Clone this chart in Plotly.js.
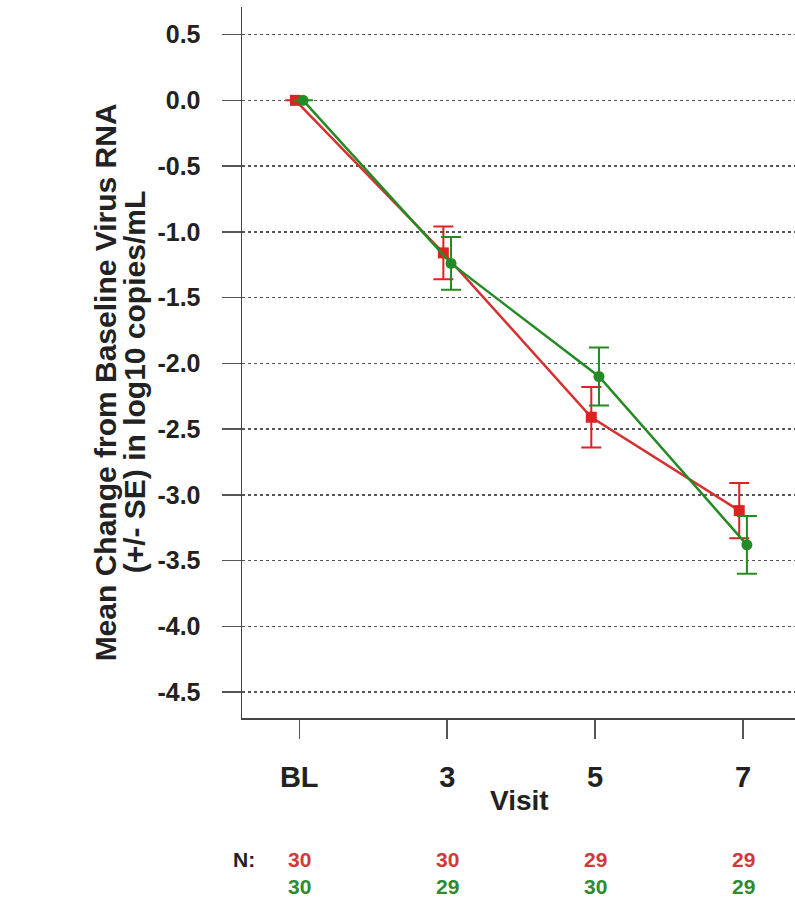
<!DOCTYPE html>
<html>
<head>
<meta charset="utf-8">
<script src="https://cdn.plot.ly/plotly-3.0.1.min.js"></script>
<style>html,body{margin:0;padding:0;background:#fff;overflow:hidden;}</style>
</head>
<body>
<div id="chart" style="width:795px;height:901px;"></div>
<script>
// Data
const visits = ['BL', '3', '5', '7'];
const redMean = [0.00, -1.16, -2.41, -3.12];
const redSE = [0.00, 0.20, 0.23, 0.21];
const greenMean = [0.00, -1.24, -2.10, -3.38];
const greenSE = [0.00, 0.20, 0.22, 0.22];
const redN = [30, 30, 29, 29];
const greenN = [30, 29, 30, 29];
const yTickVals = [0.5, 0.0, -0.5, -1.0, -1.5, -2.0, -2.5, -3.0, -3.5, -4.0, -4.5];
const yTickText = ['0.5', '0.0', '-0.5', '-1.0', '-1.5', '-2.0', '-2.5', '-3.0', '-3.5', '-4.0', '-4.5'];

const RED = '#dd2222';
const GREEN = '#238b23';
const dodge = 0.026;
const idx = visits.map((v, i) => i);
const FONT = 'Liberation Sans, Arial, Helvetica, sans-serif';

const traces = [
  {
    x: idx.map(i => i - dodge), y: redMean, type: 'scatter', mode: 'lines+markers',
    line: {color: '#d63030', width: 2.5},
    marker: {symbol: 'square', size: 11, color: RED},
    error_y: {type: 'data', array: redSE, visible: true, color: RED, thickness: 2, width: 10},
    showlegend: false, hoverinfo: 'skip'
  },
  {
    x: idx.map(i => i + dodge), y: greenMean, type: 'scatter', mode: 'lines+markers',
    line: {color: GREEN, width: 2.5},
    marker: {symbol: 'circle', size: 11, color: GREEN},
    error_y: {type: 'data', array: greenSE, visible: true, color: GREEN, thickness: 2, width: 10},
    showlegend: false, hoverinfo: 'skip'
  }
];

const L = 241.7, R = 795, T = 7, B = 718;
const px = v => (v - L) / (R - L);
const py = v => (B - v) / (B - T);

const annotations = [];
annotations.push({xref: 'paper', yref: 'paper', x: px(105), y: py(382), text: '<b>Mean Change from Baseline Virus RNA</b>',
  textangle: -90, showarrow: false, xanchor: 'center', yanchor: 'middle', font: {family: FONT, size: 30, color: '#222'}});
annotations.push({xref: 'paper', yref: 'paper', x: px(134), y: py(382), text: '<b>(+/- SE) in log10 copies/mL</b>',
  textangle: -90, showarrow: false, xanchor: 'center', yanchor: 'middle', font: {family: FONT, size: 30, color: '#222'}});
annotations.push({xref: 'paper', yref: 'paper', x: px(519), y: py(800), text: '<b>Visit</b>',
  showarrow: false, xanchor: 'center', yanchor: 'middle', font: {family: FONT, size: 28, color: '#222'}});
annotations.push({xref: 'paper', yref: 'paper', x: px(244), y: py(859), text: '<b>N:</b>',
  showarrow: false, xanchor: 'center', yanchor: 'middle', font: {family: FONT, size: 21, color: '#222'}});
idx.forEach(i => {
  annotations.push({xref: 'x', yref: 'paper', x: i, y: py(859), text: '<b>' + redN[i] + '</b>',
    showarrow: false, xanchor: 'center', yanchor: 'middle', font: {family: FONT, size: 21, color: '#d23a3a'}});
  annotations.push({xref: 'x', yref: 'paper', x: i, y: py(886), text: '<b>' + greenN[i] + '</b>',
    showarrow: false, xanchor: 'center', yanchor: 'middle', font: {family: FONT, size: 21, color: '#2e8b2e'}});
});

const layout = {
  width: 795, height: 901,
  margin: {l: L, r: 795 - R, t: T, b: 901 - B, pad: 0},
  paper_bgcolor: '#fff', plot_bgcolor: '#fff',
  showlegend: false,
  xaxis: {
    range: [-0.387, 3.351], tickvals: idx, ticktext: visits.map(v => '<b>' + v + '</b>'),
    showgrid: false, zeroline: false, showline: true, linecolor: '#444', linewidth: 1.5,
    ticks: 'outside', ticklen: 19, tickwidth: 1.5, tickcolor: '#555',
    ticklabelstandoff: 14,
    tickfont: {family: FONT, size: 29, color: '#222'}
  },
  yaxis: {
    range: [-4.697, 0.71], tickvals: yTickVals, ticktext: yTickText.map(t => '<b>' + t + '</b>'),
    showgrid: true, gridcolor: '#555', griddash: 'dot', gridwidth: 1.3,
    zeroline: false, showline: true, linecolor: '#444', linewidth: 1.5,
    ticks: 'outside', ticklen: 19, tickwidth: 1.5, tickcolor: '#555',
    ticklabelstandoff: 16,
    tickfont: {family: FONT, size: 25, color: '#222'}
  },
  annotations: annotations
};

Plotly.newPlot('chart', traces, layout, {staticPlot: true, displayModeBar: false});
</script>
</body>
</html>
